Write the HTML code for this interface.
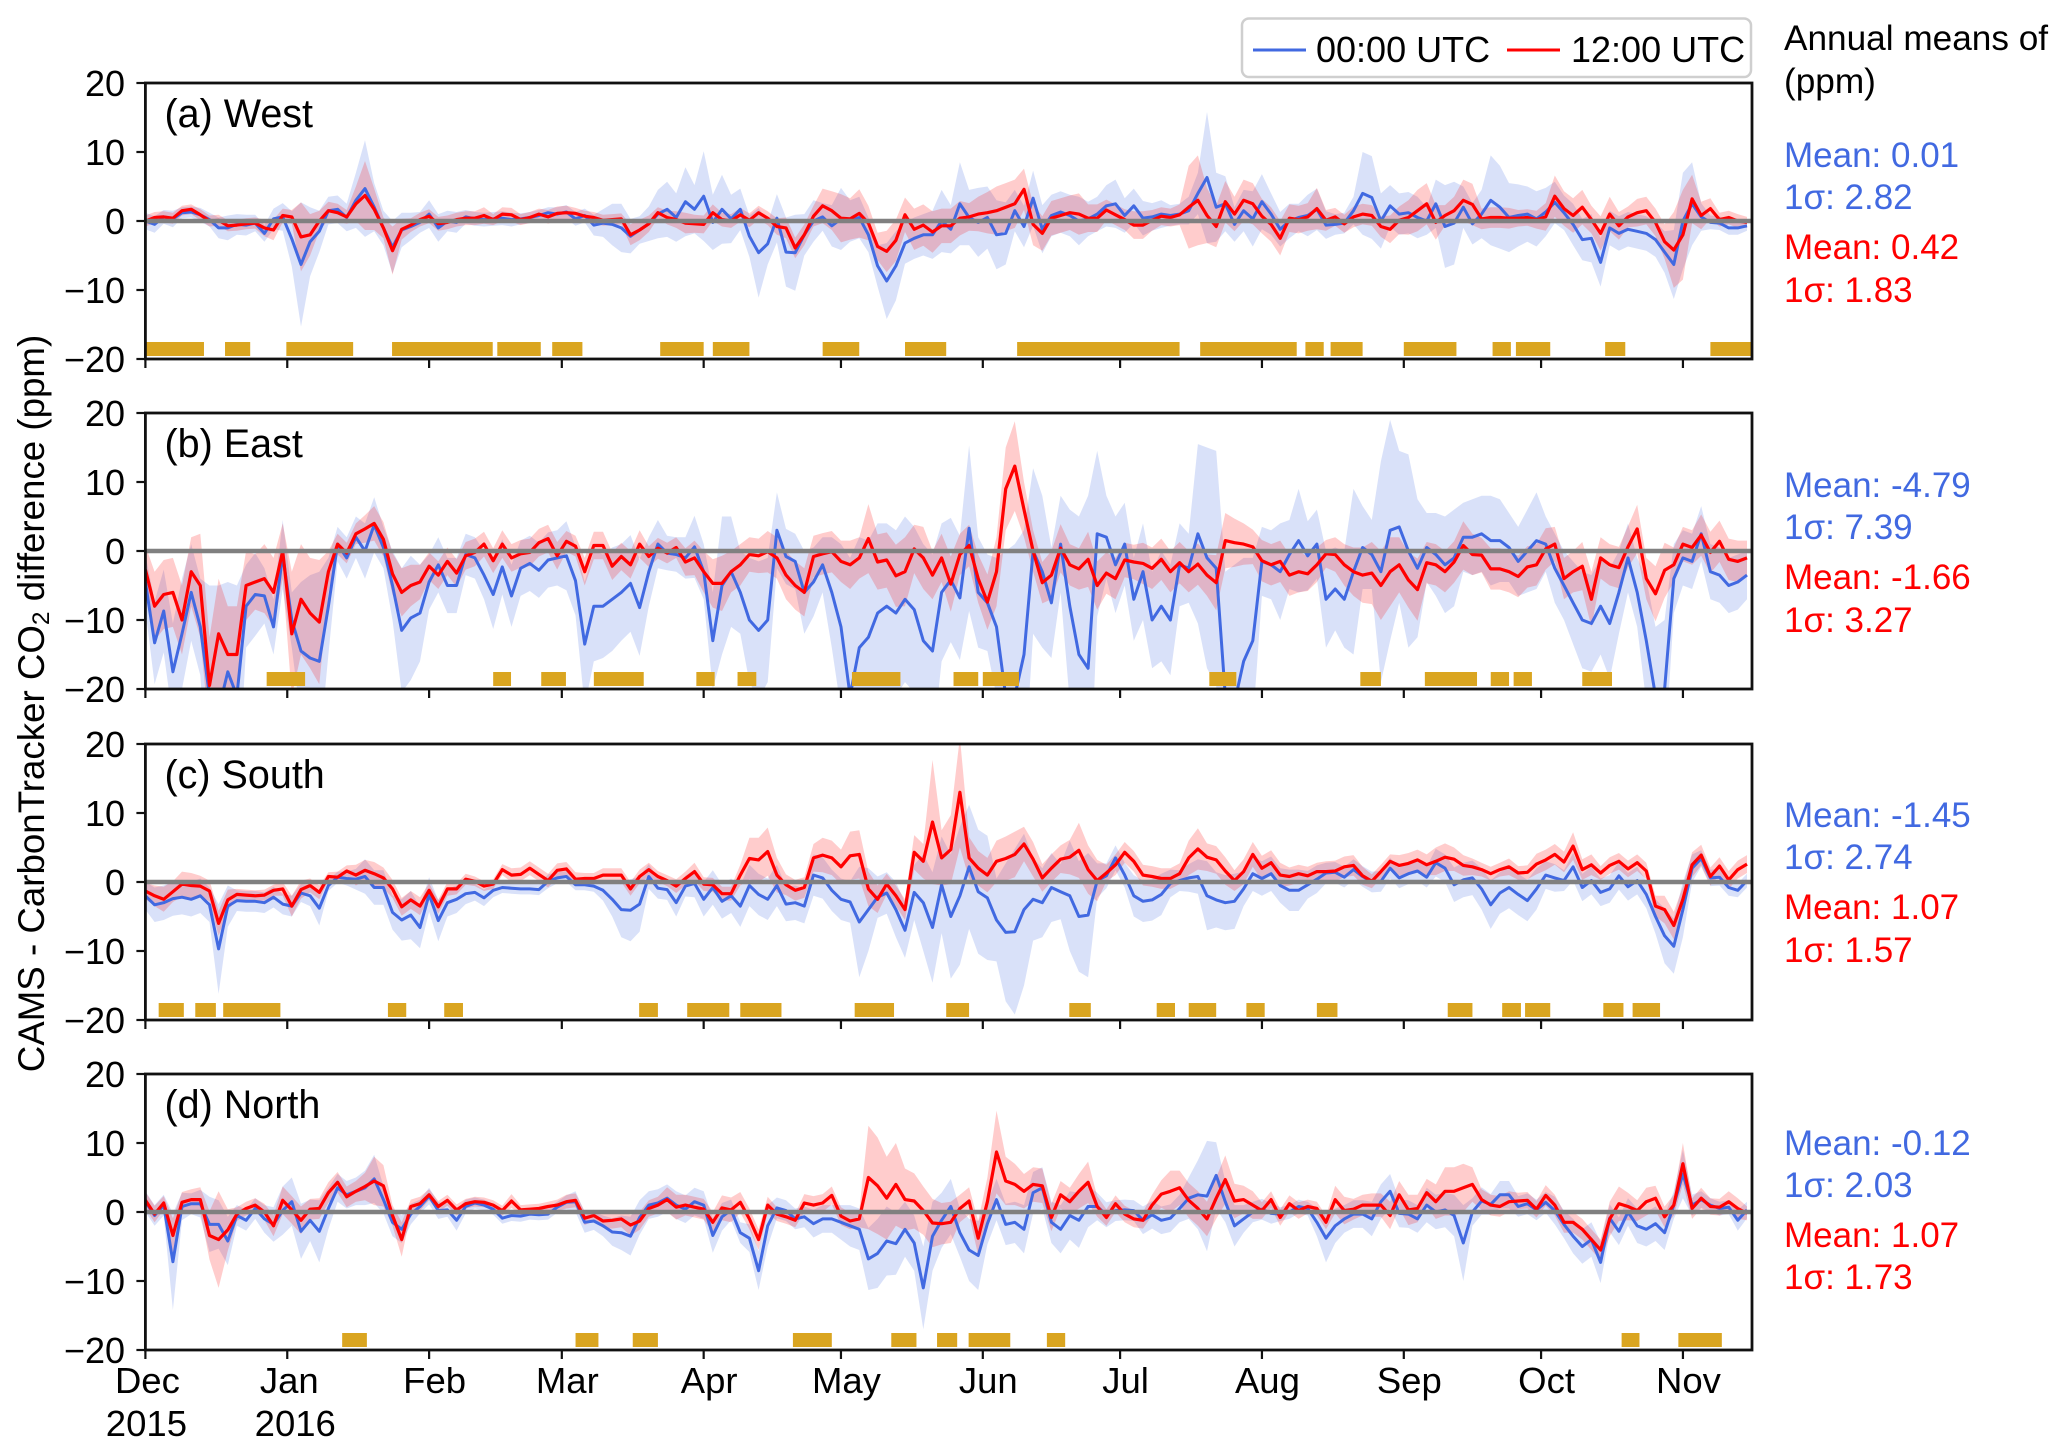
<!DOCTYPE html>
<html lang="en">
<head>
<meta charset="utf-8">
<title>CAMS - CarbonTracker CO2 difference</title>
<style>
html,body{margin:0;padding:0;background:#fff}
svg{display:block}
text{font-family:"Liberation Sans",Arial,sans-serif;fill:#000}
</style>
</head>
<body>
<svg id="chart" width="2067" height="1455" viewBox="0 0 2067 1455" xmlns="http://www.w3.org/2000/svg">
<rect x="0" y="0" width="2067" height="1455" fill="#fff"/>
<g id="panels"></g>

<text transform="translate(44,703.5) rotate(-90)" text-anchor="middle" font-size="36.7">CAMS - CarbonTracker CO<tspan dy="5" font-size="24.5">2</tspan><tspan dy="-5"> difference (ppm)</tspan></text>

<g>
<rect x="1242" y="18.5" width="509" height="58.5" rx="7" fill="#fff" stroke="#cfcfcf" stroke-width="2.5"/>
<line x1="1253" x2="1306" y1="50" y2="50" stroke="#4169e1" stroke-width="3"/>
<text x="1316" y="62" font-size="36">00:00 UTC</text>
<line x1="1507" x2="1560" y1="50" y2="50" stroke="#ff0000" stroke-width="3"/>
<text x="1571" y="62" font-size="36">12:00 UTC</text>
</g>

<g>
<text x="1784" y="50" font-size="35.2">Annual means of</text>
<text x="1784" y="93" font-size="35.2">(ppm)</text>
</g>

<g font-size="35">
<text x="1784" y="167" style="fill:#4169e1">Mean: 0.01</text>
<text x="1784" y="209" style="fill:#4169e1">1σ: 2.82</text>
<text x="1784" y="259" style="fill:#ff0000">Mean: 0.42</text>
<text x="1784" y="302" style="fill:#ff0000">1σ: 1.83</text>
</g>
<g font-size="35">
<text x="1784" y="497" style="fill:#4169e1">Mean: -4.79</text>
<text x="1784" y="539" style="fill:#4169e1">1σ: 7.39</text>
<text x="1784" y="589" style="fill:#ff0000">Mean: -1.66</text>
<text x="1784" y="632" style="fill:#ff0000">1σ: 3.27</text>
</g>
<g font-size="35">
<text x="1784" y="827" style="fill:#4169e1">Mean: -1.45</text>
<text x="1784" y="869" style="fill:#4169e1">1σ: 2.74</text>
<text x="1784" y="919" style="fill:#ff0000">Mean: 1.07</text>
<text x="1784" y="962" style="fill:#ff0000">1σ: 1.57</text>
</g>
<g font-size="35">
<text x="1784" y="1155" style="fill:#4169e1">Mean: -0.12</text>
<text x="1784" y="1197" style="fill:#4169e1">1σ: 2.03</text>
<text x="1784" y="1247" style="fill:#ff0000">Mean: 1.07</text>
<text x="1784" y="1289" style="fill:#ff0000">1σ: 1.73</text>
</g>
</svg>

<script>
// Axis categories and tick values
const monthLabels = ["Dec","Jan","Feb","Mar","Apr","May","Jun","Jul","Aug","Sep","Oct","Nov"];
const monthDays = [0,31,62,91,122,152,183,213,244,275,305,336];
const yearLabels = ["2015","2016"];
const yTicks = [-20,-10,0,10,20];
const sampleStepDays = 2;

// West: values read every two days (ppm)
const westBlue = [0,-.5,.6,.3,1.2,1.3,.9,.2,-1,-1,
-.5,-.6,-.3,-1.8,.3,.6,-2.6,-6.3,-3,-1.5,
1.5,1.7,.5,3,4.7,2,-1,-3.8,-1.3,-.8,
-.2,1,-1,0,-.2,.6,.3,.2,.3,.4,
.2,.3,.5,.8,1.2,1,1.3,.3,.8,-.6,
-.3,-.5,-1,-2.2,-1.3,-.4,1,1.7,.5,2.8,
1.7,3.6,-.2,1.7,.3,1.7,-2.2,-4.6,-3.3,.4,
-4.5,-4.6,-2,0,.6,-.7,.3,0,.5,-2,
-6.5,-8.7,-6.5,-3.2,-2.5,-2,-2,0,-1.2,2.5,
.5,-.2,.5,-2,-1.8,1.5,-.8,3.3,-1.2,.8,
1.3,.8,0,.3,1,2.2,2.5,.8,2.2,.4,
.6,1,.8,1,1.5,4,6.3,2,2.5,-.5,
1.5,.3,2.8,1,-1.2,0,.5,.8,1.7,-.6,
-.5,-.3,1.5,4,3.4,0,2.2,1,1.2,.5,
0,2.5,-.8,-.3,2,-.4,1,3,2,.5,
.8,1,.3,1.3,2.7,1.2,-.5,-2.7,-2.5,-6,
-1,-1.8,-1.2,-1.5,-1.8,-2.7,-4.5,-6.3,0,2.5,
.6,-.2,-.3,-1,-1,-.7];
const westBlueSpread = [1.2,1.2,1,1.2,.8,.8,1,1,1.5,1.8,
1.5,1.5,1.2,1.2,1.5,2,4,9,5,3,
2,2,2,4,7,3.5,2.5,3.8,2.5,2,
1.5,2,2,1.5,1.5,1,1,1,1,1,
1,.8,.8,.8,.8,1,1,1,1,1.5,
2,3,3.5,2.5,2,2.5,3.5,4,3.5,5,
3.5,6.5,4,5,3.5,3,3,6.5,3,3.5,
5,5.5,3,3,2,3,4.5,3,3,2.5,
3,5.5,5,3,3,3,3.5,4.5,3.5,6,
4,5,4.5,5,4.5,3,3,4,3.5,3,
3,3,3.5,2.5,2.5,3,3.5,2.5,2.5,2.5,
2,2,1.5,1.5,2,3,9.5,5,4,2.5,
3,4,4,3,2.5,2.5,2,3,3,2,
1.5,1.5,2,6,6,4,3,3,3,3,
2,3.5,6,6,3,3,3.5,6.5,6,5,
4.5,4,4,3.5,3,2.5,3,3,3.5,3.5,
2.5,2.5,2.5,2.5,2.5,2.5,3,5,7,6,
2,1,1,1,1,.7];
const westRed = [0,.5,.6,.4,1.5,1.7,.9,0,.1,-.7,
-.6,-.4,-.3,-1,-1.3,.8,.6,-2.3,-2,0,
1.5,1.2,.6,2.5,3.7,1.7,-1,-4.3,-1.2,-.6,
.2,.7,-.4,-.2,.2,.4,.4,.8,.2,1,
.9,.2,.5,1,.6,1.1,1.2,1.1,.7,.5,
.1,.2,.3,-2,-1.3,-.4,1.2,.5,.2,-.3,
-.4,-.5,1.2,.2,0,.9,.1,1.2,.4,-.8,
-1,-3.9,-2,.7,2.2,1.5,.4,.3,1.1,-.3,
-3.7,-4.4,-2.8,.9,-1.2,-.6,-1.6,-.7,-.7,.4,
.6,1,1.2,1.5,2,2.5,4.6,-.5,-1.8,.4,
.8,1.2,1,.4,.4,1.6,.9,.2,-.6,-.6,
.1,.7,.5,.9,2,3,.8,-.8,2.8,1,
3,2.5,.7,-.5,-2.5,.4,.2,.6,1.8,.1,
.6,-.4,.6,1,.8,-.8,-1.2,.1,.5,1.5,
2.5,-.2,.8,1.5,3,2.4,.3,.5,.5,.4,
.4,.5,.2,.6,3.6,1.8,.8,2,.2,-1.8,
1,-.7,.6,1.2,1.5,-.2,-3,-4.2,-2,3.2,
.8,1.8,.2,.5,0,-.2];
const westRedSpread = [.8,.8,.8,.8,.7,.7,.8,.8,.8,.8,
.8,.8,.8,1.2,1.5,1,1,5,3,1.5,
1.3,1.3,1,2.5,5,3,1.5,3.5,1.5,1,
1,1,1,1,1,1,1,1.2,.8,1,
1,.8,.8,.8,1,1,1,.8,.8,.8,
.8,.8,.8,1.5,1.5,1.2,.8,1,1.2,1.5,
1.3,1.3,1.2,1,1,1,1,1,1,1.2,
1.5,1.5,1.5,1.5,2.5,2.8,3.5,3,3.5,2.5,
2,3,3,2.5,3,3,3,2.5,2.5,2.5,
2,2.5,3,3.5,3.5,3.5,3,3,2.5,2.5,
2.5,2.5,3,2,2,1.5,1.5,1.5,2,2,
1.5,1.3,1.3,1.5,6,6.5,4,3,3,2.5,
3,3,2.5,2.5,2.5,2,2,2,3,1.5,
1.3,1.3,1.5,1.5,1.5,1.5,2,2,2.5,3,
3,2.5,1.5,2,3,3,1.5,1.5,1.5,1.5,
1.2,1.2,1.3,2,3,2.5,2.5,2.5,2,2.5,
2.5,2,1.5,2,2,2,2.5,5.5,6.5,3.5,
2,1.5,1,1,1,.8];
const westGoldStart = [0,17.4,30.8,53.9,76.9,88.9,112.5,124,148,166,190.5,230.5,253.5,259,275,294.4,299.5,319,342];
const westGoldEnd = [12.8,22.9,45.4,75.9,86.4,95.5,122,132,156,175,226,251.6,257.5,266,286.5,298.4,307,323.4,351];

// East
const eastBlue = [-4.5,-13.3,-8.7,-17.5,-12,-6,-11,-21,-23,-17.5,
-21,-8,-6.3,-6.5,-11,-.5,-10,-14.5,-15.5,-16,
-8,1,-1,2,0,3.8,.5,-5,-11.5,-9.7,
-9,-4.5,-2,-5,-5,-.5,-1,-3.5,-6.3,-2.3,
-6.5,-2.5,-1.8,-2.8,-1.3,-1,-.7,-4.3,-13.5,-8,
-8,-7,-6,-4.7,-8.2,-3,1,-.3,-.5,-1,
.6,-3,-13,-5,-3,-6,-10,-11.5,-10,3,
-.8,-1.5,-6,-4.5,-2,-6,-11,-21,-14,-12.5,
-9,-8,-9,-7,-8.5,-13,-14.5,-6,-4.2,-6.8,
3.3,-6,-7.5,-11,-21,-21,-15,0,-3,-7.5,
1,-8,-15,-17,2.5,2,-2,1,-7,-3,
-10,-8,-10,-2,-2.5,2.5,-1,-2.5,-21,-22,
-16,-13,-1.5,-2,-3,-.5,1.5,-.7,1,-7,
-5.5,-7,-3,.5,-.5,-3,3,3.5,0,-2.5,
.5,-.5,-2,-1,2,2,2.5,1.5,1.5,.5,
-1.5,0,1.5,1,-2.5,-5,-7.5,-10,-10.5,-8,
-10.5,-6,-1,-6,-13,-21,-20,-4,-1,-1.5,
2.5,-3,-3.5,-5,-4.5,-3.5];
const eastBlueSpread = [4,6,6,7,8,7,7,16,18,13,
16,6,6,4,4,5,4,10,12,13,
7,2.5,3,3,4,4,3,5,9,9,
7,4,4,4,4,3,3,3.5,5,4,
4.5,4,4,4,4,4,5,5,9,8,
7.5,7.5,7,7,7,5,3.5,2.5,2.5,3,
4.5,4,7,10,8,6,9,10,9,5.5,
4,4,6,5,4,8,12,20,16,14,
13,12,12,12,12,14,14,10,9,9,
12,8,7,10,21,22,18,12,11,8,
7,14,20,25,12,6,7,6,6,7,
7,8,8,6,5,13,16,17,18,20,
15,12,5,5,7,5,7.5,5,5,7,
6,7,12,6,5,16,16,11,14,10,
5,6,7,7,5,5.5,5.5,6.5,6,5,
5,6,7,4,5,5,6,7,7,7,
8,6,5,5,9,10,10,5,4,4,
4,4,4,4,4,3.5];
const eastRed = [-2.7,-8,-6.3,-6,-10,-3,-5,-19.5,-12,-15,
-15,-5,-4.5,-4,-6,0,-12,-7,-9,-10.3,
-3,1,-.3,2.5,3.2,4,1.7,-3.3,-6,-5,
-4.5,-2.2,-3.5,-1.5,-3.2,-.7,-.2,1,-1.4,1,
-1,-.4,-.2,1.2,1.8,-.7,1.4,.7,-3,.8,
.8,-2.2,-.8,-2,1,-.8,.4,-.3,.5,-1.6,
-1,-3,-4.7,-4.7,-3,-2,-.5,-.7,-.1,-1,
-3.5,-5,-6,-.8,-.4,-.1,-1.5,-2,-1,1.8,
-1.6,-1.3,-3.6,-3,.3,-1,-3.5,-1,-4.8,-.5,
.8,-4,-7.4,-3,9,12.3,6,0,-4.6,-3.5,
.4,-2,-2.6,-1.2,-5,-3.2,-4,-1.3,-1.6,-1.8,
-2.5,-1.2,-3,-1.7,-3,-1.9,-3.5,-4.6,1.5,1.2,
1,.6,-1.4,-2,-1.5,-3.5,-3,-3.3,-2,-.4,
-.5,-2,-3,-3.5,-3.2,-5,-3,-2,-4.2,-5.6,
-1.7,-2,-3,-1.6,.8,-.5,-.6,-2.6,-2.6,-3,
-3.7,-2.3,-2,.3,1,-4,-3,-2.2,-7,-1,
-2,-2.4,.6,3.2,-4,-6.2,-2.8,-2,1,.5,
2.3,-.2,1.4,-1.2,-1.5,-1];
const eastRedSpread = [3.5,5,5,5,5,5,7.5,7,8,7,
7,5,4,5,5,4,9,8,8,9,
3,1.5,1.5,1.5,2,2.5,2.5,3,3.5,3,
2.5,2,2,2,2,2,2,1.8,1.8,2,
2,2,2,2,2,2,1.5,1.5,2,2,
2,2,2,2,2,1.5,1.5,1.5,1.5,2,
2.5,3,3.5,4,3,3,2.5,2.5,3,3,
3.5,3.5,3.5,3,3,3,3,3.5,3,5,
4,4,4.5,5,3.5,4.5,3.5,3.5,4,3,
3,3.5,4,5,6,6.5,4,3,3,3.5,
3.5,3,3,4,3.5,3,3,2.5,2.5,3,
3,3,3,3,3,3,3,4,4,3.5,
3,2.5,3,3,3,3,3,2.5,2.5,2,
2.5,3,3.5,4,4.5,5,5,4,4,4.5,
3,3,3,3,3.5,3,2.5,3,3,3,
3,3,3,3,2.5,3,3,3.5,4,3,
3,3,3,3.5,3,4,4,2.5,2.5,2.5,
3,3,3,3,3,2.5];
const eastGoldStart = [26.5,76,86.5,98,120.4,129.4,154.4,176.6,183,232.5,265.5,279.6,294,299,314];
const eastGoldEnd = [34.9,79.9,91.9,108.9,124.4,133.5,165,182,190.9,238.4,270,291,298,303,320.5];

// South
const southBlue = [-2,-3.3,-3,-2.4,-2.2,-2.5,-2,-3.3,-9.7,-3.5,
-2.7,-2.8,-2.8,-3,-2.2,-3.2,-3.5,-1.6,-2,-3.8,
-.5,.7,.5,.4,.8,-.8,-.8,-4.4,-5.5,-4.8,
-6.6,-1.8,-5.6,-3,-2.5,-1.7,-1.5,-2.3,-1.2,-.8,
-.9,-1,-1,-1.1,.1,.6,.8,-.4,-.4,-.6,
-1.2,-2.5,-4,-4.1,-3.2,.8,-.9,-1.1,-3,-.6,
-.2,-2.5,-.8,-2.8,-2,-3.5,-.5,-1.8,-2.5,-.5,
-3.2,-3,-3.5,1,.6,-1.2,-2.5,-2.9,-5.8,-4,
-2.2,-1.6,-4,-7,-1.5,-3,-6.6,-.4,-5,-2,
2.2,-1.4,-2.3,-5.5,-7.3,-7.2,-4,-2.5,-3,-.8,
-1.4,-2,-5,-4.8,.2,.9,3.5,1,-2,-2.8,
-2.6,-1.8,-.2,.2,.6,.8,-2,-2.6,-3,-2.8,
-1,1.2,.5,1.2,-.5,-1.2,-1.2,-.4,.4,1.3,
1.4,.7,1.8,.8,0,.1,2,.6,1.2,1.6,
.7,2.8,2,-.4,.3,.6,-1,-3.3,-1.6,-.8,
-1.8,-2.7,-1,1,.6,.2,2.2,-.8,.2,-1.5,
-1,.9,-.7,.2,-1.8,-5,-7.8,-9.3,-4,2,
3.4,.6,.7,-.8,-1.2,.2];
const southBlueSpread = [2,2.5,2.5,2.5,2.5,2.5,2.5,2.5,6.5,3,
1.5,1.5,1.5,1.5,1.5,1.5,1.5,1.3,1.5,2.5,
.8,.8,1,1.5,2.5,2.5,2.5,2.5,3,3.5,
3,2.5,3,2,2,1.5,1.2,1.2,1,.8,
.8,.8,.8,.8,1,.8,.8,.8,.8,.8,
1.5,2.5,4,4.5,4,1.8,1.5,1.5,2,1.5,
2,2.5,2.5,2.5,2.5,3,3,3,3,3,
2.5,2.5,2.5,3,3,3,3,3,8,6,
3,3,4,4,4,7,8,7,9,10,
9,9,9,6,10,12,11,6,5,5,
4,8,8,9,2.5,1.8,1.8,1.8,3,3,
3,3,2,1.5,2,2.5,5,4,4,4,
2.5,2.5,2.5,2.5,2.5,3,3,2,2,1.5,
1.5,1.5,1.5,1.5,1.5,1.5,1.5,1.5,1.5,1.5,
1.5,2,2,2.5,2.5,2.5,3,3.5,3,3,
3,3,3,2,2,1.5,2,2,2,2,
2,2,2,2,2,2.5,4,4,4,2,
1.2,1.2,1.2,1.2,1,1];
const southRed = [-1.3,-2,-2.5,-1.4,-.3,-.5,-.6,-1.3,-6,-2.6,
-1.8,-1.9,-2,-1.9,-1.2,-1,-3.5,-1.1,-.5,-1.5,
.8,.7,1.6,1,1.7,1.2,.6,-1,-3.6,-2.6,
-3.5,-1.2,-3.6,-1,-1,.4,.1,-.6,-.3,1.8,
1,1.1,2,1.1,.2,1.7,1.9,.4,.5,.5,
1,1,1,-1,.8,1.8,.8,.2,-.6,.5,
1.5,-.3,-.4,-1.7,-1.7,1,3.4,3.2,4.4,1,
-.4,-1.2,-.8,3.5,3.9,3.5,2.2,3.8,4,-1,
-2.5,-.3,-2,-4,4.3,3,8.7,3.5,4.7,13,
3.5,2,1,3,3.4,4,5.5,3.3,.6,2,
3.3,3.6,4.6,1.8,.2,1.3,2.5,4.3,3,1,
.8,.5,.5,1.2,3.5,4.8,3.6,3.2,1.6,.2,
1.5,4,2,2.8,1,.8,1.2,.9,1.5,1.5,
1.6,2.2,2.4,.9,.1,1.5,3,2.4,2.7,3.2,
2.5,3,3.6,3.3,2.4,2.2,1.8,1.2,1.8,2.2,
1.3,1.4,2.6,3.2,4,2.9,5.2,1.8,2.5,1.3,
2.4,3,1.9,2.8,1.6,-3.5,-4,-6.3,-2.5,2.5,
3.9,.8,2.3,.3,1.8,2.6];
const southRedSpread = [1.2,1.5,1.8,1.5,1.8,1.8,1.5,1.5,1.8,1.5,
.8,.8,.8,.8,.8,1,1.5,1.3,1,1,
.6,.8,.8,1.5,1.5,1.7,1.5,1.3,1.3,1.3,
1.3,1,1,1,.8,.8,.7,.7,.7,.8,
1,1,1,1,1,1,1,1,.8,.8,
1,1,1,1,1,1,.8,.8,1,1,
1.3,1,1,1,1,1.5,3,3.2,3.5,2.5,
1.5,1.5,1.5,2,2.5,2.5,2.5,3.5,3.5,2.5,
2,1.5,1.5,1.5,2.5,2.5,9,4,5,8,
3,2.5,2.5,3,3.2,3.3,2.5,2.5,2,2,
2,2.5,4,3.5,3,1.2,1.5,1.5,1.5,1.5,
1.5,1.5,1.5,1.5,2.5,3,2,2,2,1.5,
1.8,1.8,1.8,1.8,1.8,1.3,1.3,1.3,1.3,1.5,
1.5,1.5,1.5,1.3,1,1,1,1.5,1.5,1.5,
1.5,2,2,1.7,1.5,1.2,1,1,1,1.2,
1,1,1.5,1.5,1.5,1.5,2,1.5,1.5,1,
1.2,1.2,1.2,1.2,1.2,1.5,2,2,1.8,1.8,
1.5,1.3,1.3,1.3,1.3,1.3];
const southGoldStart = [2.9,10.9,17,53,65.3,107.9,118.4,130,155,175,201.9,221,228,240.6,256,284.6,296.5,301.5,318.6,325];
const southGoldEnd = [8.4,15.4,29.5,57,69.4,112,127.6,139,163.6,180,206.6,225,234,244.6,260.5,290,300.6,307,323,331];

// North
const northBlue = [1.5,-.5,1,-7.2,.8,1.2,1.2,-1.8,-1.8,-4.2,
-.5,-1.2,.5,-1,-1.8,.2,1.5,-2.8,-1.2,-2.8,
.5,3.5,2.5,3,3.5,4.8,1.8,-1.5,-2.5,-.3,
.8,2.3,.2,.3,-1.2,.8,1.3,1,.4,-.9,
-.5,-.6,-.3,-.4,-.3,.7,1.4,1.5,-1.5,-1.3,
-2,-2.9,-3,-3.5,-.8,1,1.3,2,1,.4,
1.5,1,-3.4,-.7,.3,-3,-3.8,-8.5,-2,.6,
.2,-1,-.7,-1.7,-1,-1,-1.5,-2,-2.5,-6.8,
-6,-4.2,-4.6,-2.5,-4.5,-11,-3.5,-1.2,.8,-3,
-5.5,-6.3,-1.7,1.8,-1.8,-1.5,-2.5,2.8,3.5,-1.5,
-2.5,-.5,-1.2,.8,.8,-.4,.2,.3,.2,-1.2,
-.4,-1.2,-.9,.5,2,2.5,2.3,5.3,1.5,-2,
-1,0,.4,-.2,-.3,0,.8,.5,-1.5,-3.8,
-2,-1,-.3,-.3,-1,1.5,3,-.2,-.3,-1,
1,0,.3,-.5,-4.5,0,1.6,1.1,2.5,2.5,
.8,1.2,.3,1.4,.2,-1.8,-3.5,-5,-4,-7.3,
-.9,-2.8,0,-2,-2.5,-1.7,-3,1,5.5,1,
1.8,1,.5,.7,-1.2,.3];
const northBlueSpread = [1.5,1.5,1.5,7,2,1.5,2,4,3.5,3.5,
1.5,1.5,1.5,2,2.5,3.5,3.5,4,3,4.5,
3,2,2,2,2.5,3.5,2,2,2,1.5,
1,1.2,1.2,1,1.5,1,.8,.8,.8,.8,
.8,.8,.8,.8,.8,.8,1,1.5,1.5,1.3,
1.5,2,2.5,2.8,2.5,2,2,2,2,2,
2,2,2.5,2,1.5,1.5,2,2.8,3,1.5,
1.5,1.5,1.5,2,2,2,2.5,3,3,4.5,
5,5,4.5,4,4,6,5,4,4,3.5,
4.5,5,3,3,3,3,3.5,3,3,3,
3.5,3.5,4,3,2,1.8,1.5,1.5,1.5,2,
2,2,2,2,3,5,8,4.8,3,3,
2,1.5,1.5,1.5,1,1,1,1,2,3.5,
2.5,2,2,2,2.5,2.5,2.5,2,2,2,
2.5,2.5,2.5,3,5.5,2,2,1.5,2,2,
1.5,1.5,1.5,1.5,2,2,2.5,2.5,2.5,3,
2,2,2,2.5,2.5,2.5,2.5,2,3.5,1.5,
1.2,1,1,1,1.5,1.2];
const northRed = [1.7,-.3,1.3,-3.4,1.4,1.8,1.8,-3.4,-4,-2.6,
-.3,.5,1,0,-2,1.7,.3,-1.2,.4,.5,
2.8,4.3,2.2,3,3.7,4.5,3.8,-.5,-4,.8,
1.2,2.5,.8,1.7,.3,1.2,1.5,1.4,1,.2,
1.6,.3,.4,.5,.8,1,1.5,1.7,-.9,-.5,
-1.3,-1.2,-1,-1.9,-1.3,.5,1,1.8,.7,1,
.7,.4,-1.5,.6,.3,1.4,-1,-4,1,-.3,
-.7,-1.2,1.3,1,1.3,2.4,-.6,-1.3,-1,5,
3.8,2,4,1.8,1.6,.2,-1.6,-1.7,-1.5,.5,
1.6,-3.8,1.5,8.7,4.5,4,3,4,3.8,-.8,
2.5,1.5,3,4.3,.8,-.8,1.2,-.3,-1,-1.2,
1,2.6,3,3.5,1.7,.5,-1,2,4.7,1.6,
1.8,1,.2,1.8,-.8,1.2,.2,.8,.5,-1.5,
1.8,.2,.4,1,1,1,-.5,2.5,.3,.5,
2.8,1.5,3,3,3.5,4,1.8,1,.8,1.5,
1.6,1.7,.4,2.4,1,-1.5,-1.5,-2.5,-4,-5.5,
-1,1.2,.8,.2,1.5,2,-.7,1,7,.5,
2,.8,.7,1.5,.5,-.2];
const northRedSpread = [1.2,1.2,1,2.5,1.5,1.5,1.8,3.5,7,3,
1,1,1,1.2,1.5,2,2,2,1.5,1.5,
1.5,1.5,1.5,1.5,2,3.5,3,1.5,2.5,1,
1,.8,.8,.8,.8,.7,.7,.7,.7,.7,
1,.7,.7,.7,.7,.8,1,1,1,.8,
1,1.2,1.2,1.5,1.3,1.2,1.2,1.8,1.8,1.5,
1.5,1.5,1.5,1.8,1.8,1.5,1.5,1.5,1.2,1,
1,1,1.3,1.3,1.3,1.3,1.3,1.2,1.2,7.5,
7,6,6,4.5,4,3.5,3.5,3,3,2,
2,2.5,3.5,6,3.5,3,2.5,2.5,2.5,2,
2,2,2.5,3,1.5,1.2,1.2,1.2,1.2,1.2,
1.5,2,3,2.5,2.5,2.5,2.5,3,3.5,2.5,
2,2,1.2,1.2,1.2,1.2,1.2,1,1,1,
2,2,1.5,1.5,1.7,1.7,2,2,2.2,2,
2,2.5,3.5,3.5,3.5,2.5,1.5,1.5,1.5,1.5,
1.2,1.2,1.2,1.5,1.5,1.5,1.5,1.5,1.5,1.5,
2.5,2.5,2,1.5,2,1.8,1.5,1.5,3,1.5,
1.5,1.2,1.2,1.5,1.5,1];
const northGoldStart = [43,94,106.5,141.5,163,173,179.9,197,322.6,335];
const northGoldEnd = [48.4,99,112,150,168.5,177.4,189,201,326.5,344.5];

const panelLabels = ["(a) West","(b) East","(c) South","(d) North"];
const panelKeys = ["west","east","south","north"];
const panelBlue = [westBlue,eastBlue,southBlue,northBlue];
const panelBlueSpread = [westBlueSpread,eastBlueSpread,southBlueSpread,northBlueSpread];
const panelRed = [westRed,eastRed,southRed,northRed];
const panelRedSpread = [westRedSpread,eastRedSpread,southRedSpread,northRedSpread];
const panelGoldStart = [westGoldStart,eastGoldStart,southGoldStart,northGoldStart];
const panelGoldEnd = [westGoldEnd,eastGoldEnd,southGoldEnd,northGoldEnd];

const NS = "http://www.w3.org/2000/svg";
const plotLeft = 145.4, plotRight = 1752, pxPerDay = 4.576, panelHeight = 276;
const panelTopOf = function (i) { return 83 + Math.round(i * 330.34); };
const xScale = function (day) { return plotLeft + day * pxPerDay; };
const yScale = function (top, v) { return top + (20 - v) / 40 * panelHeight; };

function svgEl(tag, attrs, parent) {
  const el = document.createElementNS(NS, tag);
  for (const k in attrs) el.setAttribute(k, attrs[k]);
  parent.appendChild(el);
  return el;
}
function linePath(values, top) {
  return values.map(function (v, i) {
    return (i ? "L" : "M") + xScale(i * sampleStepDays).toFixed(1) + " " + yScale(top, v).toFixed(1);
  }).join("");
}
function bandPath(values, spread, top) {
  const up = values.map(function (v, i) { return xScale(i * sampleStepDays).toFixed(1) + " " + yScale(top, v + spread[i]).toFixed(1); });
  const lo = values.map(function (v, i) { return xScale(i * sampleStepDays).toFixed(1) + " " + yScale(top, v - spread[i]).toFixed(1); }).reverse();
  return "M" + up.join("L") + "L" + lo.join("L") + "Z";
}

const root = document.getElementById("panels");
const defs = svgEl("defs", {}, root);

panelKeys.forEach(function (key, p) {
  const top = panelTopOf(p), bottom = top + panelHeight;
  const g = svgEl("g", {}, root);
  
  
  g.setAttribute('id', 'panel-' + key);

  const clip = svgEl("clipPath", { id: "clip-" + key }, defs);
  svgEl("rect", { x: plotLeft, y: top, width: plotRight - plotLeft, height: panelHeight }, clip);

  const plot = svgEl("g", { "clip-path": "url(#clip-" + key + ")" }, g);
  
  

  const blueBand = svgEl("path", { d: bandPath(panelBlue[p], panelBlueSpread[p], top), fill: "#4169e1", "fill-opacity": 0.2 }, plot);
  
  

  const redBand = svgEl("path", { d: bandPath(panelRed[p], panelRedSpread[p], top), fill: "#ff0000", "fill-opacity": 0.2 }, plot);
  
  

  const blueLine = svgEl("path", { d: linePath(panelBlue[p], top), fill: "none", stroke: "#4169e1", "stroke-width": 3, "stroke-linejoin": "round" }, plot);
  
  

  const redLine = svgEl("path", { d: linePath(panelRed[p], top), fill: "none", stroke: "#ff0000", "stroke-width": 3.2, "stroke-linejoin": "round" }, plot);
  
  

  const zero = svgEl("line", { x1: plotLeft, x2: plotRight, y1: yScale(top, 0), y2: yScale(top, 0), stroke: "#808080", "stroke-width": 4.6 }, plot);
  
  

  panelGoldStart[p].forEach(function (start, i) {
    const bar = svgEl("rect", { x: xScale(start), y: bottom - 17, width: (panelGoldEnd[p][i] - start) * pxPerDay, height: 14, fill: "#daa520" }, plot);
    
    
  });

  const frame = svgEl("rect", { x: plotLeft, y: top, width: plotRight - plotLeft, height: panelHeight, fill: "none", stroke: "#111", "stroke-width": 2.8 }, g);
  
  

  yTicks.forEach(function (v) {
    const y = yScale(top, v);
    const t = svgEl("line", { x1: plotLeft - 9, x2: plotLeft, y1: y, y2: y, stroke: "#111", "stroke-width": 2.2 }, g);
    
    
    const l = svgEl("text", { x: 125, y: y + 13, "text-anchor": "end", "font-size": 36 }, g);
    
    
    l.textContent = String(v).replace("-", "\u2212");
  });

  monthDays.forEach(function (d, i) {
    const x = xScale(d);
    const t = svgEl("line", { x1: x, x2: x, y1: bottom, y2: bottom + 9, stroke: "#111", "stroke-width": 2.2 }, g);
    
    
    if (p === 3) {
      const l = svgEl("text", { x: x + (i < 2 ? 2 : 5.5), y: 1393, "text-anchor": "middle", "font-size": 36.5 }, g);
      
      
      l.textContent = monthLabels[i];
      if (i < yearLabels.length) {
        const yl = svgEl("text", { x: x + (i === 0 ? 1 : 8), y: 1436, "text-anchor": "middle", "font-size": 36.5 }, g);
        
        
        yl.textContent = yearLabels[i];
      }
    }
  });

  const label = svgEl("text", { x: 164.5, y: top + 44, "font-size": 39.5 }, g);
  
  
  label.textContent = panelLabels[p];
});
</script>
</body>
</html>
